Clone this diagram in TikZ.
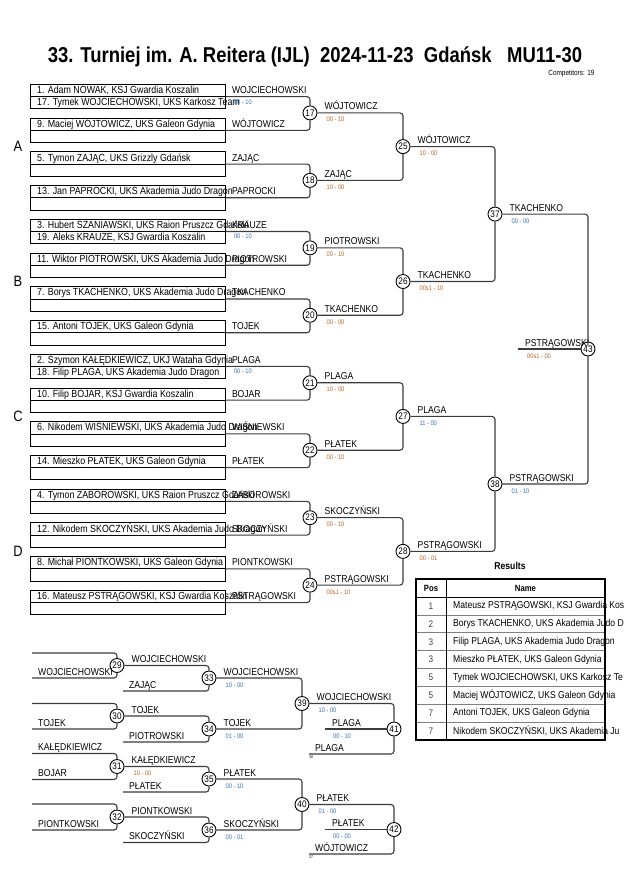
\documentclass[tikz,border=0pt]{standalone}
\usepackage{fontspec}
\setmainfont{Liberation Sans}[FakeStretch=0.86]
\usetikzlibrary{positioning}
\definecolor{linegray}{HTML}{3C3C3C}
\definecolor{scoreor}{HTML}{B5621E}
\definecolor{scorebl}{HTML}{2F6DB5}
\tikzset{
	conn/.style={draw=linegray, line width=1.1pt, rounded corners=3pt},
	boxline/.style={draw=black, line width=0.8pt},
	entrybox/.style={boxline, minimum width=195pt, minimum height=24.4pt, inner sep=0pt, anchor=north west},
	mnum/.style={circle, draw, fill=white, line width=0.9pt, minimum size=14pt, inner sep=0pt, font=\fontsize{9.5}{10}\selectfont},
	entry/.style={anchor=base west, inner sep=0pt, font=\fontsize{10.3}{11}\selectfont},
	lbl/.style={anchor=base west, inner sep=0pt, font=\fontsize{10}{11}\selectfont},
	scr/.style={anchor=base west, inner sep=0pt, font=\fontsize{6.6}{7}\selectfont},
	grp/.style={font=\fontsize{15}{16}\selectfont},
	tiny/.style={anchor=north west, inner sep=0pt, font=\fontsize{4}{4}\selectfont}
}

\begin{document}
\begin{tikzpicture}[x=1pt, y=-1pt]
	\useasboundingbox (0,0) rectangle (630,891);
	\node[font=\bfseries\fontsize{21.5}{24}\selectfont] (title) at (315,57) {33. Turniej im. A. Reitera (IJL)\ \ 2024-11-23\ \ Gdańsk\ \ \ MU11-30};
	\node[anchor=east, font=\fontsize{7.5}{8}\selectfont] (ncomp) at (598,74) {Competitors: 19};
	% entries of the main draw
	\foreach \ta/\tb/\w [count=\k from 0] in {
		{1. Adam NOWAK, KSJ Gwardia Koszalin}/{17. Tymek WOJCIECHOWSKI, UKS Karkosz Team}/WOJCIECHOWSKI,
		{9. Maciej WÓJTOWICZ, UKS Galeon Gdynia}/{}/WÓJTOWICZ,
		{5. Tymon ZAJĄC, UKS Grizzly Gdańsk}/{}/ZAJĄC,
		{13. Jan PAPROCKI, UKS Akademia Judo Dragon}/{}/PAPROCKI,
		{3. Hubert SZANIAWSKI, UKS Raion Pruszcz Gdański}/{19. Aleks KRAUZE, KSJ Gwardia Koszalin}/KRAUZE,
		{11. Wiktor PIOTROWSKI, UKS Akademia Judo Dragon}/{}/PIOTROWSKI,
		{7. Borys TKACHENKO, UKS Akademia Judo Dragon}/{}/TKACHENKO,
		{15. Antoni TOJEK, UKS Galeon Gdynia}/{}/TOJEK,
		{2. Szymon KAŁĘDKIEWICZ, UKJ Wataha Gdynia}/{18. Filip PLAGA, UKS Akademia Judo Dragon}/PLAGA,
		{10. Filip BOJAR, KSJ Gwardia Koszalin}/{}/BOJAR,
		{6. Nikodem WIŚNIEWSKI, UKS Akademia Judo Dragon}/{}/WIŚNIEWSKI,
		{14. Mieszko PŁATEK, UKS Galeon Gdynia}/{}/PŁATEK,
		{4. Tymon ZABOROWSKI, UKS Raion Pruszcz Gdański}/{}/ZABOROWSKI,
		{12. Nikodem SKOCZYŃSKI, UKS Akademia Judo Dragon}/{}/SKOCZYŃSKI,
		{8. Michał PIONTKOWSKI, UKS Galeon Gdynia}/{}/PIONTKOWSKI,
		{16. Mateusz PSTRĄGOWSKI, KSJ Gwardia Koszalin}/{}/PSTRĄGOWSKI}{
		\pgfmathsetmacro\yt{84+33.73*\k}
		\node[entrybox] (b\k) at (30,\yt) {};
		\draw[boxline] (b\k.west) -- (b\k.east);
		\node[entry] (e\k a) at ([xshift=7pt,yshift=-9.6pt]b\k.north west) {\ta};
		\node[entry] (e\k b) at ([xshift=7pt,yshift=-21.8pt]b\k.north west) {\tb};
		\node[lbl] (l\k) at ([xshift=6pt,yshift=-9.6pt]b\k.north east) {\w};
	}
	\foreach \k in {0,4,8}
		\node[scr, text=scorebl] (p\k) at ([xshift=8pt,yshift=-20pt]b\k.north east) {00 - 10};
	\node[grp] (ga) at (18,146) {A};
	\node[grp] (gb) at (18,281) {B};
	\node[grp] (gc) at (18,416) {C};
	\node[grp] (gd) at (18,551) {D};
	% contests
	\foreach \m in {17,...,24}
		\node[mnum] (m\m) at (310,{112.9+67.46*(\m-17)}) {\m};
	\foreach \m in {25,...,28}
		\node[mnum] (m\m) at (403,{146.6+134.92*(\m-25)}) {\m};
	\node[mnum] (m37) at (495,214.1) {37};
	\node[mnum] (m38) at (495,484.0) {38};
	\node[mnum] (m43) at (588,349.0) {43};
	\foreach \m in {17,...,24}{
		\pgfmathtruncatemacro\a{2*(\m-17)}
		\pgfmathtruncatemacro\b{2*(\m-17)+1}
		\draw[conn] (b\a.east) -| (m\m.north);
		\draw[conn] (b\b.east) -| (m\m.south);
	}
	\foreach \m/\a/\b in {25/17/18, 26/19/20, 27/21/22, 28/23/24, 37/25/26, 38/27/28, 43/37/38}{
		\draw[conn] (m\a.east) -| (m\m.north);
		\draw[conn] (m\b.east) -| (m\m.south);
	}
	\coordinate (f43) at (518,349);
	\draw[conn] (f43) -- (m43.west);
	\node[lbl] (w43) at ([xshift=7pt,yshift=3pt]f43) {PSTRĄGOWSKI};
	\node[scr, text=scoreor] (s43) at ([xshift=9pt,yshift=-9pt]f43) {00s1 - 00};
	% repechage
	\foreach \m/\x/\y in {29/117/665.5, 30/117/716, 31/117/766.5, 32/117/817, 33/209/678, 34/209/729,
		35/209/779, 36/209/830, 39/302/703.5, 40/302/804.5, 41/394/729, 42/394/829.5}
		\node[mnum] (m\m) at (\x,\y) {\m};
	\coordinate (r29a) at (32,653);   \coordinate (r29b) at (32,678);
	\coordinate (r30a) at (32,703.5); \coordinate (r30b) at (32,729);
	\coordinate (r31a) at (32,753.5); \coordinate (r31b) at (32,779.5);
	\coordinate (r32a) at (32,804);   \coordinate (r32b) at (32,830);
	\coordinate (r33b) at (123,691);  \coordinate (r34b) at (123,742);
	\coordinate (r35b) at (123,792);  \coordinate (r36b) at (123,842.5);
	\coordinate (r41b) at (309,754);  \coordinate (r41w) at (325,729);
	\coordinate (r42b) at (309,854);  \coordinate (r42w) at (325,829.5);
	\foreach \m in {29,...,32}{
		\draw[conn] (r\m a) -| (m\m.north);
		\draw[conn] (r\m b) -| (m\m.south);
	}
	\foreach \m/\a in {33/29, 34/30, 35/31, 36/32}{
		\draw[conn] (m\a.east) -| (m\m.north);
		\draw[conn] (r\m b) -| (m\m.south);
	}
	\foreach \m/\a/\b in {39/33/34, 40/35/36}{
		\draw[conn] (m\a.east) -| (m\m.north);
		\draw[conn] (m\b.east) -| (m\m.south);
	}
	\foreach \m/\a in {41/39, 42/40}{
		\draw[conn] (m\a.east) -| (m\m.north);
		\draw[conn] (r\m b) -| (m\m.south);
		\draw[conn] (r\m w) -- (m\m.west);
	}
	\foreach \c/\w in {r29b/WOJCIECHOWSKI, r30b/TOJEK, r31a/KAŁĘDKIEWICZ, r31b/BOJAR, r32b/PIONTKOWSKI,
		r33b/ZAJĄC, r34b/PIOTROWSKI, r35b/PŁATEK, r36b/SKOCZYŃSKI, r41b/PLAGA, r42b/WÓJTOWICZ}
		\node[lbl] (n\c) at ([xshift=6pt,yshift=3pt]\c) {\w};
	\node[tiny] (t41) at ([yshift=-1.5pt]r41b) {38};
	\node[tiny] (t42) at ([yshift=-1.5pt]r42b) {37};
	\node[lbl] (w41) at ([xshift=7pt,yshift=3pt]r41w) {PLAGA};
	\node[scr, text=scorebl] (s41) at ([xshift=8pt,yshift=-9pt]r41w) {00 - 10};
	\node[lbl] (w42) at ([xshift=7pt,yshift=3pt]r42w) {PŁATEK};
	\node[scr, text=scorebl] (s42) at ([xshift=8pt,yshift=-9pt]r42w) {00 - 00};
	% winners and scores
	\foreach \m/\w/\s/\c in {17/WÓJTOWICZ/00 - 10/scoreor, 18/ZAJĄC/10 - 00/scoreor,
		19/PIOTROWSKI/00 - 10/scoreor, 20/TKACHENKO/00 - 00/scoreor, 21/PLAGA/10 - 00/scoreor,
		22/PŁATEK/00 - 10/scoreor, 23/SKOCZYŃSKI/00 - 10/scoreor, 24/PSTRĄGOWSKI/00s1 - 10/scoreor,
		25/WÓJTOWICZ/10 - 00/scoreor, 26/TKACHENKO/00s1 - 10/scoreor, 27/PLAGA/11 - 00/scorebl,
		28/PSTRĄGOWSKI/00 - 01/scoreor, 37/TKACHENKO/00 - 00/scorebl, 38/PSTRĄGOWSKI/01 - 10/scorebl,
		29/WOJCIECHOWSKI//black, 30/TOJEK//black, 31/KAŁĘDKIEWICZ/10 - 00/scoreor, 32/PIONTKOWSKI//black,
		33/WOJCIECHOWSKI/10 - 00/scorebl, 34/TOJEK/01 - 00/scorebl, 35/PŁATEK/00 - 10/scorebl,
		36/SKOCZYŃSKI/00 - 01/scorebl, 39/WOJCIECHOWSKI/10 - 00/scorebl, 40/PŁATEK/01 - 00/scorebl}{
		\node[lbl] (w\m) at ([xshift=7pt,yshift=3pt]m\m.east) {\w};
		\node[scr, text=\c] (s\m) at ([xshift=9pt,yshift=-9pt]m\m.east) {\s};
	}
	% results
	\node[font=\bfseries\fontsize{10}{11}\selectfont] (res) at (510,566) {Results};
	\foreach \i in {1,...,7}
		\draw[gray, line width=0.7pt] (416,{597+17.9*\i}) -- (605,{597+17.9*\i});
	\draw[line width=0.9pt] (416,597) -- (605,597);
	\draw[line width=0.9pt] (446,579) -- (446,740);
	\draw[line width=1.6pt] (416,579) rectangle (605,740);
	\node[font=\bfseries\fontsize{9}{10}\selectfont] (hpos) at (431,588) {Pos};
	\node[font=\bfseries\fontsize{9}{10}\selectfont] (hname) at (525.5,588) {Name};
	\begin{scope}
		\clip (0,0) rectangle (630,891);
		\foreach \p/\n [count=\i] in {1/{Mateusz PSTRĄGOWSKI, KSJ Gwardia Kos},
			2/{Borys TKACHENKO, UKS Akademia Judo D}, 3/{Filip PLAGA, UKS Akademia Judo Dragon},
			3/{Mieszko PŁATEK, UKS Galeon Gdynia}, 5/{Tymek WOJCIECHOWSKI, UKS Karkosz Te},
			5/{Maciej WÓJTOWICZ, UKS Galeon Gdynia}, 7/{Antoni TOJEK, UKS Galeon Gdynia},
			7/{Nikodem SKOCZYŃSKI, UKS Akademia Ju}}{
			\node[font=\fontsize{9.5}{10}\selectfont, text=black!75] (pos\i) at (431,{597+17.9*(\i-0.5)}) {\p};
			\node[anchor=west, inner sep=0pt, font=\fontsize{10}{11}\selectfont] (res\i) at (453,{597+17.9*(\i-0.5)}) {\n};
		}
	\end{scope}
\end{tikzpicture}
\end{document}
